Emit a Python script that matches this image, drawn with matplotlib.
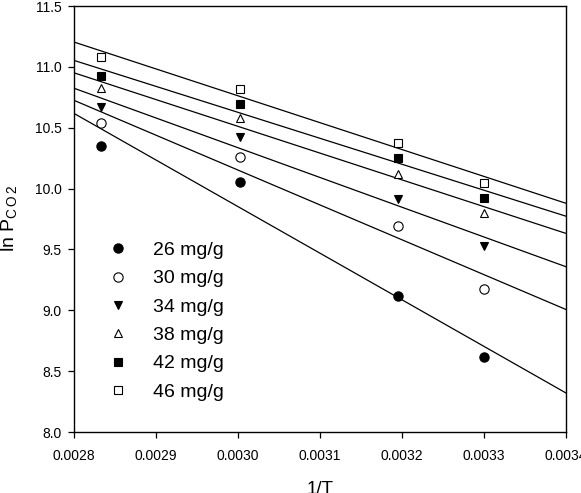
import numpy as np
import matplotlib
matplotlib.use("Agg")
import matplotlib.pyplot as plt

plt.rcParams['font.family'] = ['Liberation Sans', 'DejaVu Sans']
plt.rcParams['mathtext.fontset'] = 'custom'
plt.rcParams['mathtext.rm'] = 'Liberation Sans'
plt.rcParams['mathtext.it'] = 'Liberation Sans'

# Data
inv_T = [0.002833, 0.003003, 0.003195, 0.003300]
labels = ['26 mg/g', '30 mg/g', '34 mg/g', '38 mg/g', '42 mg/g', '46 mg/g']
ln_p_26 = [10.35, 10.057, 9.12, 8.613]
ln_p_30 = [10.536, 10.257, 9.692, 9.175]
ln_p_34 = [10.673, 10.421, 9.911, 9.528]
ln_p_38 = [10.824, 10.577, 10.12, 9.796]
ln_p_42 = [10.925, 10.695, 10.254, 9.925]
ln_p_46 = [11.083, 10.815, 10.377, 10.043]
series = [ln_p_26, ln_p_30, ln_p_34, ln_p_38, ln_p_42, ln_p_46]

x_ticks = [0.0028, 0.0029, 0.0030, 0.0031, 0.0032, 0.0033, 0.0034]
y_ticks = [8.0, 8.5, 9.0, 9.5, 10.0, 10.5, 11.0, 11.5]

styles = [
    dict(marker='o', mfc='black', ms=6.7),
    dict(marker='o', mfc='white', ms=6.7),
    dict(marker='v', mfc='black', ms=6.2),
    dict(marker='^', mfc='white', ms=6.2),
    dict(marker='s', mfc='black', ms=5.6),
    dict(marker='s', mfc='white', ms=5.6),
]

fig = plt.figure(figsize=(5.81, 4.93), dpi=100)
ax = fig.add_axes([74/581, 1-432/493, (566-74)/581, (432-6)/493])

xfit = np.array([0.0028, 0.0034])
handles = []
for ys, st, lab in zip(series, styles, labels):
    k, b = np.polyfit(inv_T, ys, 1)
    ax.plot(xfit, k*xfit + b, color='black', lw=0.9, zorder=2)
    h, = ax.plot(inv_T, ys, linestyle='none', marker=st['marker'],
                 mfc=st['mfc'], mec='black', mew=0.8, ms=st['ms'],
                 label=lab, zorder=3, clip_on=False)
    handles.append(h)

ax.set_xlim(0.0028, 0.0034)
ax.set_ylim(8.0, 11.5)
ax.set_xticks(x_ticks)
ax.set_xticklabels([f"{v:.4f}" for v in x_ticks])
ax.set_yticks(y_ticks)
ax.set_yticklabels([f"{v:.1f}" for v in y_ticks])
ax.tick_params(direction='out', length=4.5, width=0.9, labelsize=10, colors='black')
ax.tick_params(axis='x', pad=8)
ax.tick_params(axis='y', pad=4.5)
for s in ax.spines.values():
    s.set_linewidth(1.0)

ax.set_xlabel('1/T', fontsize=13.5, labelpad=13)
ax.set_ylabel(r'ln P$_{\mathrm{C\,O\,2}}$', fontsize=14, labelpad=11)

ax.legend(handles=handles, loc='upper left', bbox_to_anchor=(108.6/581, 1-241.5/493),
          bbox_transform=fig.transFigure, frameon=False, borderpad=0,
          handlelength=1.0, handletextpad=1.3, labelspacing=0.55,
          fontsize=14, borderaxespad=0)

fig.savefig('out.png', dpi=100)
